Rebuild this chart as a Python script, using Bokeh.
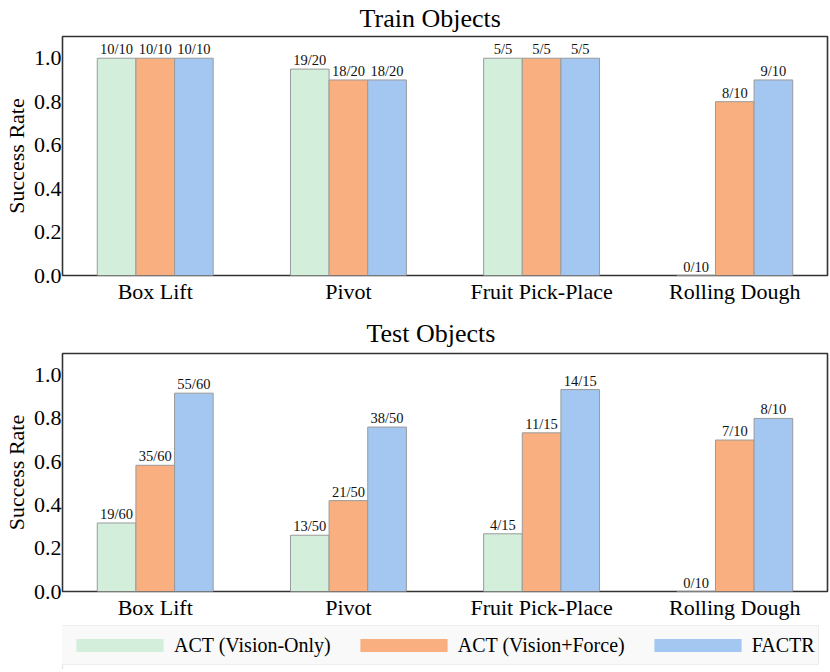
from bokeh.plotting import figure
from bokeh.models import (ColumnDataSource, Range1d, FixedTicker, PrintfTickFormatter,
                          Legend, LegendItem)
from bokeh.layouts import column
from bokeh.core.properties import value
from bokeh.embed import file_html
from bokeh.resources import INLINE

categories = ["Box Lift", "Pivot", "Fruit Pick-Place", "Rolling Dough"]
methods = ["ACT (Vision-Only)", "ACT (Vision+Force)", "FACTR"]
colors = ["#d3efdc", "#f9af7f", "#a3c7f1"]

train_success = [[10, 19, 5, 0], [10, 18, 5, 8], [10, 18, 5, 9]]
train_trials = [[10, 20, 5, 10], [10, 20, 5, 10], [10, 20, 5, 10]]
test_success = [[19, 13, 4, 0], [35, 21, 11, 7], [55, 38, 14, 8]]
test_trials = [[60, 50, 15, 10], [60, 50, 15, 10], [60, 50, 15, 10]]
y_ticks = [0.0, 0.2, 0.4, 0.6, 0.8, 1.0]

FONT = "'Liberation Serif', 'Times New Roman', serif"
BAR_W = 0.2
W = 830


def make_panel(title, succ, trials, height, top_border, bottom_border,
               title_offset, title_standoff):
    p = figure(width=W, height=height, output_backend="svg", toolbar_location=None,
               x_range=Range1d(-0.48, 3.48), y_range=Range1d(0, 1.1),
               min_border_left=56, min_border_right=3,
               min_border_top=top_border, min_border_bottom=bottom_border)
    p.title.text = title
    p.title.align = "left"
    p.title.offset = title_offset
    p.title.vertical_align = "top"
    p.title.text_font = FONT
    p.title.text_font_size = "26px"
    p.title.text_font_style = "normal"
    p.title.text_color = "#000000"
    p.title.standoff = title_standoff
    p.xgrid.visible = False
    p.ygrid.visible = False
    p.outline_line_color = "#333333"
    p.outline_line_width = 1.6
    p.background_fill_color = "white"

    for i, m in enumerate(methods):
        xs = [k + (i - 1) * BAR_W for k in range(len(categories))]
        rates = [s / t for s, t in zip(succ[i], trials[i])]
        labels = [f"{s}/{t}" for s, t in zip(succ[i], trials[i])]
        src = ColumnDataSource(dict(x=xs, top=rates, label=labels))
        p.vbar(x="x", top="top", width=BAR_W, bottom=0, source=src,
               fill_color=colors[i], line_color="#9a9a9a", line_width=1)
        p.text(x="x", y="top", text="label", source=src, text_align="center",
               text_baseline="bottom", y_offset=-1, text_font=value(FONT),
               text_font_size="14.5px", text_color="#111111")

    p.xaxis.ticker = FixedTicker(ticks=list(range(len(categories))))
    p.xaxis.major_label_overrides = {i: c for i, c in enumerate(categories)}
    p.yaxis.ticker = FixedTicker(ticks=y_ticks)
    p.yaxis.formatter = PrintfTickFormatter(format="%.1f")
    p.yaxis.axis_label = "Success Rate"
    for ax in (p.xaxis[0], p.yaxis[0]):
        ax.axis_line_color = None
        ax.major_tick_line_color = None
        ax.minor_tick_line_color = None
        ax.major_tick_out = 0
        ax.major_tick_in = 0
        ax.minor_tick_out = 0
        ax.major_label_text_font = FONT
        ax.major_label_text_font_size = "22px"
        ax.major_label_text_color = "#000000"
        ax.axis_label_text_font = FONT
        ax.axis_label_text_font_size = "22px"
        ax.axis_label_text_font_style = "normal"
        ax.axis_label_text_color = "#000000"
    p.xaxis.major_label_standoff = 3
    p.yaxis.major_label_standoff = 1
    p.yaxis.axis_label_standoff = 2
    p.yaxis.axis_label_text_line_height = 0.9
    return p


p1 = make_panel("Train Objects", train_success, train_trials, 314, 36, 39, 297, 4)
p2 = make_panel("Test Objects", test_success, test_trials, 311, 39, 34, 304, 7)

pl = figure(width=W, height=44, output_backend="svg", toolbar_location=None,
            x_range=Range1d(0, 1), y_range=Range1d(0, 1),
            min_border_left=0, min_border_right=0, min_border_top=0, min_border_bottom=0)
pl.axis.visible = False
pl.xgrid.visible = False
pl.ygrid.visible = False
pl.outline_line_color = None
items = []
for i, m in enumerate(methods):
    r = pl.vbar(x=[-10], top=[0.5], width=0.1, fill_color=colors[i], line_color=None)
    items.append(LegendItem(label=m, renderers=[r]))
leg = Legend(items=items, orientation="horizontal", location=(-1, 4),
             glyph_width=109, glyph_height=16, label_standoff=0, spacing=18,
             padding=3, margin=0, label_text_font=FONT, label_text_font_size="20px",
             label_text_color="#000000", label_height=32,
             background_fill_color="#f9f9f9", background_fill_alpha=1.0,
             border_line_color="#e3e3e3", border_line_width=1)
pl.add_layout(leg, "center")

layout = column(p1, p2, pl, spacing=0)
open("out.html", "w").write(file_html(layout, INLINE))
